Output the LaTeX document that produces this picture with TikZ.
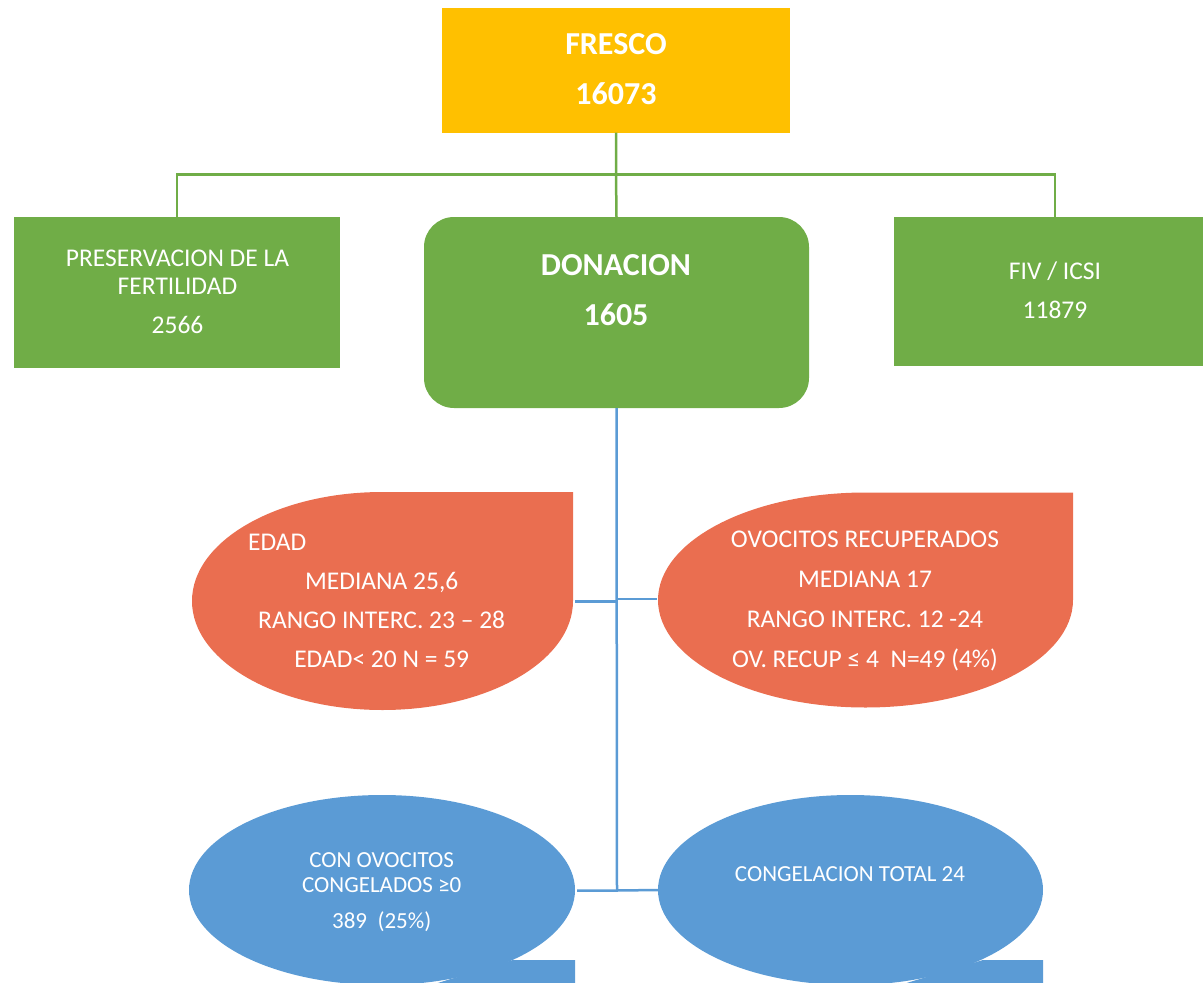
\documentclass[tikz,border=0pt]{standalone}
\usepackage{fontspec}
\setmainfont{Carlito}
\definecolor{cyel}{HTML}{FFC000}
\definecolor{cgrn}{HTML}{70AD47}
\definecolor{corg}{HTML}{EA6E50}
\definecolor{cblu}{HTML}{5B9BD5}
\begin{document}
\begin{tikzpicture}[x=1pt,y=-1pt,
  txt/.style={text=white,font=\fontsize{25.5}{30}\selectfont,inner sep=0,anchor=base},
  btxt/.style={text=white,font=\fontsize{32}{38}\bfseries\selectfont,inner sep=0,anchor=base},
  stxt/.style={text=white,font=\fontsize{23}{28}\selectfont,inner sep=0,anchor=base},
  shapebox/.style={inner sep=0,outer sep=0},
  gline/.style={draw=cgrn,line width=2.5pt},
  bline/.style={draw=cblu,line width=2.5pt}]
\useasboundingbox (0,0) rectangle (1203,983);

% top level
\node[shapebox,fill=cyel,minimum width=348,minimum height=125] (fresco) at (616,70) {};
\node[btxt] (t1) at (616,54.3) {FRESCO};
\node[btxt] (t2) at (616,104.3) {16073};

% second level
\node[shapebox,fill=cgrn,minimum width=326,minimum height=151] (pres) at (177,292.5) {};
\node[shapebox,fill=cgrn,rounded corners=30,minimum width=385,minimum height=191] (don) at (616.5,312.5) {};
\node[shapebox,fill=cgrn,minimum width=322,minimum height=149] (fiv) at (1055,291.5) {};

\node[txt] (p1) at (177.5,266.2) {PRESERVACION DE LA};
\node[txt] (p2) at (177.5,294.2) {FERTILIDAD};
\node[txt] (p3) at (177.5,333.2) {2566};
\node[btxt] (d1) at (616,275.3) {DONACION};
\node[btxt] (d2) at (616,325.3) {1605};
\node[txt] (f1) at (1055,279.9) {FIV / ICSI};
\node[txt] (f2) at (1055,318.2) {11879};

% green connectors
\coordinate (gj) at (616,174.5);
\draw[gline] (fresco.south) -- (gj) -- (don.north);
\draw[gline] (pres.north) -- (pres.north |- gj) -- (fiv.north |- gj) -- (fiv.north);

% orange teardrops
\node[shapebox,minimum width=381,minimum height=218] (edad) at (382.5,601) {};
\fill[corg] (edad.west) arc[start angle=180,end angle=270,x radius=190.5,y radius=109]
  -- (edad.north east) -- (edad.east) arc[start angle=0,end angle=180,x radius=190.5,y radius=109] -- cycle;
\node[shapebox,minimum width=415,minimum height=215] (ovo) at (865.5,600) {};
\fill[corg] (ovo.west) arc[start angle=180,end angle=270,x radius=207.5,y radius=107.5]
  -- (ovo.north east) -- (ovo.east) arc[start angle=0,end angle=180,x radius=207.5,y radius=107.5] -- cycle;

\node[txt,anchor=base west] (e1) at (248,550.2) {EDAD};
\node[txt] (e2) at (381.7,589.2) {MEDIANA 25,6};
\node[txt] (e3) at (381.7,628.2) {RANGO INTERC. 23 – 28};
\node[txt] (e4) at (381.7,667.2) {EDAD< 20 N = 59};
\node[txt] (o1) at (865,547.2) {OVOCITOS RECUPERADOS};
\node[txt] (o2) at (865,587.2) {MEDIANA 17};
\node[txt] (o3) at (865,627.2) {RANGO INTERC. 12 -24};
\node[txt] (o4) at (865,667.2) {OV. RECUP ≤ 4\ \ N=49 (4\%)};

% blue callouts
\node[shapebox,minimum width=386,minimum height=190] (con) at (382,890) {};
\fill[cblu] (con.center) ellipse[x radius=193,y radius=95];
\fill[cblu] (513,960) -- (575,960) -- (575,1000) -- (382,1000) -- cycle;
\node[shapebox,minimum width=385,minimum height=190] (cong) at (850.5,890) {};
\fill[cblu] (cong.center) ellipse[x radius=192.5,y radius=95];
\fill[cblu] (983,960) -- (1043,960) -- (1043,1000) -- (850,1000) -- cycle;

\node[stxt] (c1) at (381.7,867.4) {CON OVOCITOS};
\node[stxt] (c2) at (381.7,892.4) {CONGELADOS ≥0};
\node[stxt] (c3) at (381.7,928.4) {389\ \ (25\%)};
\node[stxt] (g1) at (850,881.4) {CONGELACION TOTAL 24};

% blue connectors
\coordinate (bj) at (617,890.5);
\draw[bline] (don.south) -- (bj);
\draw[bline] (edad.east) ++(2,0.7) -- (617,601.7);
\draw[bline] (ovo.west) ++(-1,-1) -- (617,599);
\draw[bline] (con.east) ++(2,0.5) -- (bj) -- (cong.west);
\end{tikzpicture}
\end{document}
